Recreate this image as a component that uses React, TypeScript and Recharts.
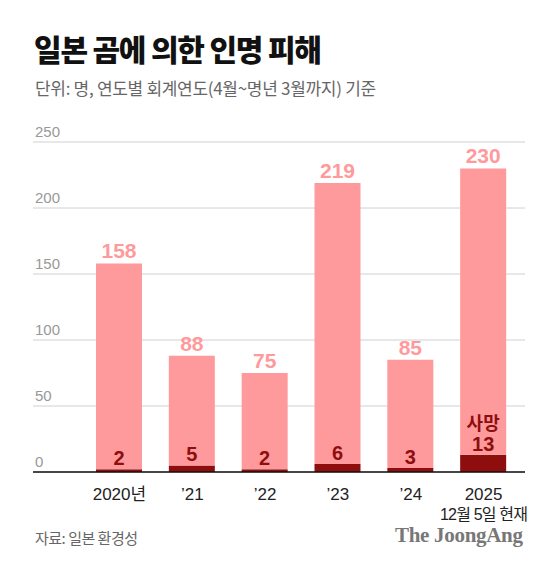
import { BarChart, Bar, XAxis, YAxis, CartesianGrid, LabelList } from "recharts";

const years = ["2020년", "’21", "’22", "’23", "’24", "2025"];
const totals = [158, 88, 75, 219, 85, 230];
const deaths = [2, 5, 2, 6, 3, 13];
const yTicks = [0, 50, 100, 150, 200, 250];

const data = years.map((year, i) => ({
  year,
  total: totals[i],
  deaths: deaths[i],
  rest: totals[i] - deaths[i],
}));

const LIGHT = "#ff9a9c";
const DARK = "#8e0e0e";
const SANS = "'Liberation Sans', 'Noto Sans CJK KR', sans-serif";
const KR = "'Noto Sans CJK KR', sans-serif";

const renderYTick = ({ y, payload }: any) => (
  <text x={35} y={y - 5} fill="#999" fontSize={15} fontFamily={SANS}>
    {payload.value}
  </text>
);

const renderXTick = ({ x, y, payload }: any) => {
  const last = payload.value === "2025";
  return (
    <g>
      <text x={x} y={y + 20} textAnchor="middle" fill="#222" fontSize={17} fontFamily={SANS}>
        {payload.value}
      </text>
      {last && (
        <text x={x} y={y + 40} textAnchor="middle" fill="#222" fontSize={16} fontFamily={SANS} letterSpacing={-0.8}>
          12월 5일 현재
        </text>
      )}
    </g>
  );
};

const renderDeathLabel = ({ x, y, width, value, index }: any) => {
  const cx = x + width / 2;
  return (
    <g fill={DARK} fontSize={20} fontWeight="bold" fontFamily={SANS} textAnchor="middle">
      {index === years.length - 1 && (
        <text x={cx} y={y - 25} fontSize={18} fontFamily={KR}>
          사망
        </text>
      )}
      <text x={cx} y={y - 4}>{value}</text>
    </g>
  );
};

export default function App() {
  return (
    <div
      style={{
        position: "absolute",
        left: 0,
        top: 0,
        width: 560,
        height: 568,
        background: "#fff",
        overflow: "hidden",
      }}
    >
      <BarChart
        width={560}
        height={568}
        data={data}
        margin={{ top: 142, right: 35, left: 0, bottom: 0 }}
        barSize={46}
      >
        <CartesianGrid vertical={false} stroke="#d0d0d0" />
        <YAxis
          domain={[0, 250]}
          ticks={yTicks}
          width={33}
          axisLine={false}
          tickLine={false}
          tick={renderYTick}
        />
        <XAxis
          dataKey="year"
          height={96}
          padding={{ left: 50, right: 5 }}
          axisLine={{ stroke: "#111", strokeWidth: 1.5 }}
          tickLine={false}
          tick={renderXTick}
          interval={0}
        />
        <Bar dataKey="deaths" stackId="a" fill={DARK} isAnimationActive={false}>
          <LabelList dataKey="deaths" content={renderDeathLabel} />
        </Bar>
        <Bar dataKey="rest" stackId="a" fill={LIGHT} isAnimationActive={false}>
          <LabelList
            dataKey="total"
            position="top"
            offset={5}
            fill={LIGHT}
            fontSize={21}
            fontWeight="bold"
            fontFamily={SANS}
          />
        </Bar>
      </BarChart>
      <div
        style={{
          position: "absolute",
          left: 34,
          top: 26,
          fontFamily: KR,
          fontWeight: 900,
          fontSize: 30,
          letterSpacing: -1.2,
          color: "#111",
          whiteSpace: "nowrap",
        }}
      >
        일본 곰에 의한 인명 피해
      </div>
      <div
        style={{
          position: "absolute",
          left: 35,
          top: 75,
          fontFamily: KR,
          fontSize: 17,
          letterSpacing: -0.3,
          color: "#666",
          whiteSpace: "nowrap",
        }}
      >
        단위: 명, 연도별 회계연도(4월~명년 3월까지) 기준
      </div>
      <div
        style={{
          position: "absolute",
          left: 35,
          top: 527,
          fontFamily: KR,
          fontSize: 15,
          letterSpacing: -0.5,
          color: "#666",
          whiteSpace: "nowrap",
        }}
      >
        자료: 일본 환경성
      </div>
      <div
        style={{
          position: "absolute",
          left: 395,
          top: 523,
          fontFamily: "'Liberation Serif', serif",
          fontWeight: "bold",
          fontSize: 21,
          letterSpacing: -0.3,
          color: "#777",
          whiteSpace: "nowrap",
        }}
      >
        The JoongAng
      </div>
    </div>
  );
}
